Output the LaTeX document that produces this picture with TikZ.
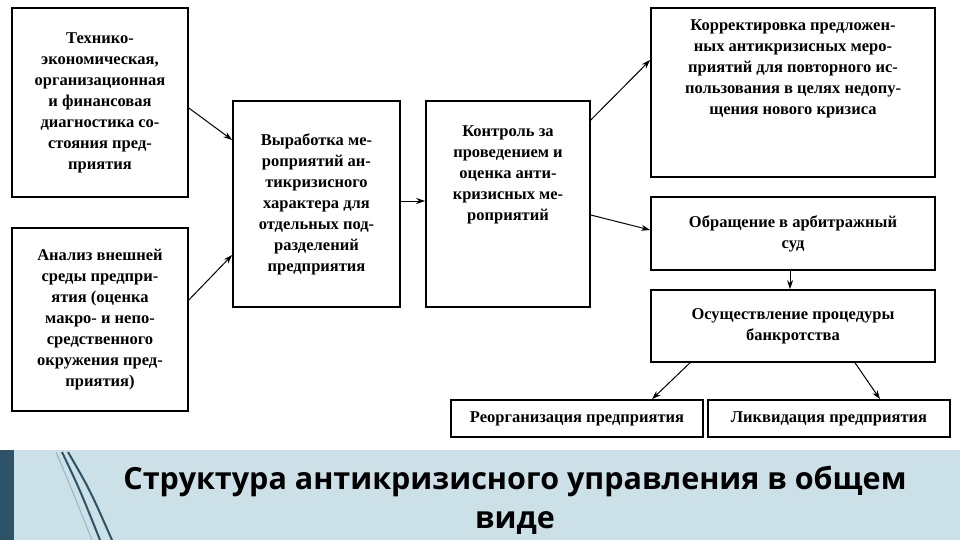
\documentclass[tikz,border=0pt]{standalone}
\usepackage{fontspec}
\setmainfont{Liberation Serif}
\newfontfamily\titlefont{Open Sans}
\usetikzlibrary{arrows.meta}
\begin{document}
\begin{tikzpicture}[x=1pt,y=-1pt,
  bx/.style={draw=black,line width=1.6pt,align=center,font=\fontsize{16.5}{21}\selectfont\bfseries,inner sep=0pt},
  ar/.style={-{Stealth[length=9pt,width=6pt]},line width=1pt}]
\useasboundingbox (0,0) rectangle (960,540);
\fill[white] (0,0) rectangle (960,540);
% bottom band
\fill[fill={rgb,255:red,204;green,224;blue,231}] (0,450) rectangle (960,540);
\fill[fill={rgb,255:red,46;green,82;blue,102}] (0,450) rectangle (14,540);
\draw[line width=2pt,color={rgb,255:red,46;green,82;blue,102}] (62,452) .. controls (80,490) .. (100,540);
\draw[line width=2pt,color={rgb,255:red,46;green,82;blue,102}] (68,452) .. controls (90,490) .. (112,540);
\draw[line width=1pt,color={rgb,255:red,150;green,180;blue,195}] (56,452) .. controls (72,490) .. (92,540);
\node[font=\titlefont\fontsize{30.5}{39}\selectfont\bfseries,align=center] (title) at (515,500) {Структура антикризисного управления в общем\\виде};
% boxes
\node[bx,minimum width=176pt,minimum height=189pt] (b1) at (100,102.5) {Технико-\\экономическая,\\организационная\\и финансовая\\диагностика со-\\стояния пред-\\приятия};
\node[bx,minimum width=176pt,minimum height=183pt] (b2) at (100,319.5) {Анализ внешней\\среды предпри-\\ятия (оценка\\макро- и непо-\\средственного\\окружения пред-\\приятия)};
\node[bx,minimum width=167pt,minimum height=206pt] (b3) at (316.5,204) {Выработка ме-\\роприятий ан-\\тикризисного\\характера для\\отдельных под-\\разделений\\предприятия};
\node[bx,minimum width=164pt,minimum height=206pt] (b4) at (508,204) {Контроль за\\проведением и\\оценка анти-\\кризисных ме-\\роприятий\\[40pt]};
\node[bx,minimum width=284pt,minimum height=169pt] (b5) at (793,92.5) {Корректировка предложен-\\ных антикризисных меро-\\приятий для повторного ис-\\пользования в целях недопу-\\щения нового кризиса\\[30pt]};
\node[bx,minimum width=284pt,minimum height=73pt] (b6) at (793,233.5) {Обращение в арбитражный\\суд};
\node[bx,minimum width=284pt,minimum height=72pt] (b7) at (793,326) {Осуществление процедуры\\банкротства};
\node[bx,minimum width=252pt,minimum height=37pt] (b8) at (577,418.5) {Реорганизация предприятия};
\node[bx,minimum width=242pt,minimum height=37pt] (b9) at (829,418.5) {Ликвидация предприятия};
% arrows
\draw[ar] (b1.east |- 0,108) -- (b3.west |- 0,140);
\draw[ar] (b2.east |- 0,300) -- (b3.west |- 0,255);
\draw[ar] (b3.east |- 0,201) -- (b4.west |- 0,201);
\draw[ar] (b4.east |- 0,120) -- (b5.west |- 0,60);
\draw[ar] (b4.east |- 0,215) -- (b6.west |- 0,230);
\draw[ar] (b6.south) ++(-3,0) coordinate (c1) -- (c1 |- b7.north);
\draw[ar] (b7.south -| 690,0) -- (b8.north -| 652,0);
\draw[ar] (b7.south -| 855,0) -- (b9.north -| 880,0);
\end{tikzpicture}
\end{document}
